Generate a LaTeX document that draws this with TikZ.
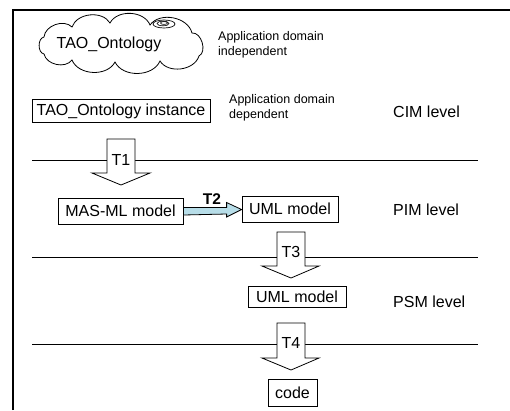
\documentclass[tikz,border=0pt]{standalone}
\usepackage{fontspec}
\setmainfont{Liberation Sans}
\usetikzlibrary{calc}
\tikzset{
  boxtxt/.style={draw,line width=0.8bp,inner sep=0pt,font=\fontsize{16bp}{18bp}\selectfont},
  smalltxt/.style={align=left,anchor=west,inner sep=0pt,font=\fontsize{12.5bp}{15bp}\selectfont},
  leveltxt/.style={anchor=west,inner sep=0pt,font=\fontsize{16bp}{19bp}\selectfont},
  levelline/.style={line width=0.8bp},
  blockarrow/.style={draw,fill=white,line width=0.8bp},
  tlabel/.style={inner sep=0pt,font=\fontsize{16bp}{18bp}\selectfont},
  puff/.style={bend left=65}
}
\definecolor{tblue}{RGB}{183,221,232}
\begin{document}
\begin{tikzpicture}[x=1bp,y=-1bp]
\useasboundingbox (0,0) rectangle (510,410);
% frame
\draw[line width=1.5bp] (13,410) -- (13,10) -- (510,10);
% cloud
\coordinate (c1) at (44,37);
\coordinate (c2) at (72,27);
\coordinate (c3) at (110,23);
\coordinate (c4) at (150,25);
\coordinate (c5) at (192,33);
\coordinate (c6) at (199,56);
\coordinate (c7) at (160,61);
\coordinate (c8) at (115,62);
\coordinate (c9) at (72,60);
\coordinate (c10) at (44,54);
\draw[line width=0.8bp,fill=white] (c1) to[puff] (c2) to[puff] (c3) to[puff] (c4) to[puff] (c5)
  to[bend left=80] (c6) to[puff] (c7) to[puff] (c8) to[puff] (c9) to[puff] (c10) to[bend left=80] (c1) -- cycle;
\draw[line width=0.7bp,fill=white] (164,24) ellipse [x radius=11,y radius=4];
\draw[line width=0.6bp] (163,23.5) ellipse [x radius=6,y radius=2.3];
\draw[line width=0.6bp] (164,23) ellipse [x radius=3.5,y radius=1.4];
\node[tlabel] (tao) at (109,44) {TAO\_Ontology};
\node[smalltxt] (indep) at (218,44.5) {Application domain\\independent};
% instance
\node[boxtxt,minimum width=178bp,minimum height=23bp] (inst) at (121,111) {TAO\_Ontology instance};
\node[smalltxt] (dep) at (229,108) {Application domain\\dependent};
\node[leveltxt] (cim) at (393,112) {CIM level};
% level lines
\coordinate (l1a) at (32,160); \coordinate (l1b) at (478,160);
\coordinate (l2a) at (32,257); \coordinate (l2b) at (478,257);
\coordinate (l3a) at (32,344); \coordinate (l3b) at (478,344);
\draw[levelline] (l1a) -- (l1b);
\draw[levelline] (l2a) -- (l2b);
\draw[levelline] (l3a) -- (l3b);
% T1
\draw[blockarrow] (107,139) -- (135,139) -- (135,173) -- (150,173) -- (121,185) -- (92,173) -- (107,173) -- cycle;
\node[tlabel] (t1) at (121,160) {T1};
% PIM
\node[boxtxt,minimum width=125bp,minimum height=26bp] (mas) at (120.5,211) {MAS-ML model};
\node[boxtxt,minimum width=96bp,minimum height=26bp] (uml1) at (290,209) {UML model};
\node[leveltxt] (pim) at (393,210) {PIM level};
% T2
\draw[line width=0.8bp,fill=tblue] ($(mas.east)+(0,-3.5)$) -- ($(uml1.west)+(-15,-1.5)$) -- ($(uml1.west)+(-15,-6.5)$) -- ($(uml1.west)+(0,0.5)$) -- ($(uml1.west)+(-15,8)$) -- ($(uml1.west)+(-15,5)$) -- ($(mas.east)+(0,4)$) -- cycle;
\node[tlabel,font=\bfseries\fontsize{15.5bp}{18bp}\selectfont] (t2) at (212,199) {T2};
% T3
\draw[blockarrow] (277,232) -- (305,232) -- (305,266) -- (319,266) -- (291,278) -- (262,266) -- (277,266) -- cycle;
\node[tlabel] (t3) at (291,252) {T3};
% PSM
\node[boxtxt,minimum width=98bp,minimum height=21bp] (uml2) at (297,297) {UML model};
\node[leveltxt] (psm) at (393,302) {PSM level};
% T4
\draw[blockarrow] (277,323) -- (305,323) -- (305,358) -- (319,358) -- (291,370) -- (262,358) -- (277,358) -- cycle;
\node[tlabel] (t4) at (291,343) {T4};
% code
\node[boxtxt,minimum width=49bp,minimum height=27bp] (code) at (292.5,393) {code};
\end{tikzpicture}
\end{document}
